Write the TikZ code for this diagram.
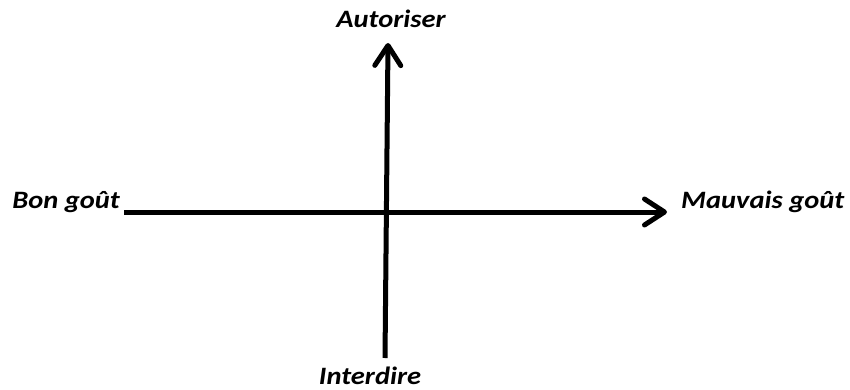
\documentclass[tikz,border=0pt]{standalone}
\usepackage{fontspec}
\setmainfont{Carlito}[FakeStretch=1.14]
\usetikzlibrary{arrows.meta}
\begin{document}
\begin{tikzpicture}[x=1pt,y=1pt,
  lbl/.style={font=\fontsize{25}{30}\selectfont\bfseries\itshape, inner sep=0pt},
  axis/.style={line width=5pt, -{Straight Barb[length=20pt,width=26pt,round]}}]
\useasboundingbox (0,0) rectangle (850,389);
\node[lbl, anchor=base] (aut) at (391,361) {Autoriser};
\node[lbl, anchor=base] (int) at (370,5) {Interdire};
\node[lbl, anchor=base east] (bon) at (120,181) {Bon goût};
\node[lbl, anchor=base west] (mau) at (681,181) {Mauvais goût};
\coordinate (hs) at (124,177);
\coordinate (he) at (667,177);
\coordinate (vs) at (385,31);
\coordinate (ve) at (388,346);
\draw[axis] (hs) -- (he);
\draw[axis] (vs) -- (ve);
\end{tikzpicture}
\end{document}
